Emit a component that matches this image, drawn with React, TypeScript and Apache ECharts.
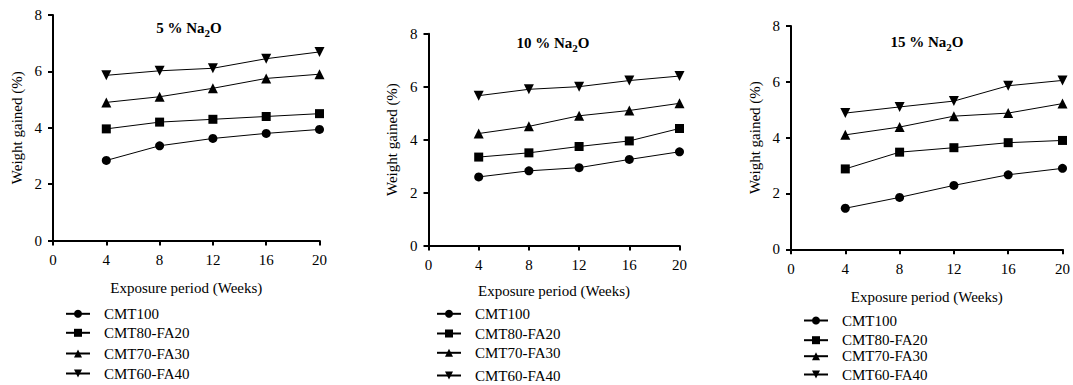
import React, { useEffect, useRef } from "react";
import * as echarts from "echarts";

const weeks = [4, 8, 12, 16, 20];
const seriesNames = ["CMT100", "CMT80-FA20", "CMT70-FA30", "CMT60-FA40"];
const panelTitles = ["5", "10", "15"];

const p5_CMT100 = [2.84, 3.36, 3.62, 3.8, 3.94];
const p5_CMT80 = [3.96, 4.2, 4.3, 4.4, 4.5];
const p5_CMT70 = [4.9, 5.1, 5.4, 5.75, 5.9];
const p5_CMT60 = [5.86, 6.02, 6.11, 6.45, 6.69];

const p10_CMT100 = [2.59, 2.82, 2.94, 3.25, 3.54];
const p10_CMT80 = [3.34, 3.5, 3.74, 3.95, 4.42];
const p10_CMT70 = [4.23, 4.5, 4.9, 5.1, 5.37];
const p10_CMT60 = [5.66, 5.9, 6.0, 6.23, 6.4];

const p15_CMT100 = [1.47, 1.86, 2.29, 2.67, 2.9];
const p15_CMT80 = [2.88, 3.48, 3.64, 3.82, 3.9];
const p15_CMT70 = [4.1, 4.38, 4.77, 4.88, 5.22];
const p15_CMT60 = [4.88, 5.1, 5.31, 5.86, 6.05];

const panelData = [
  [p5_CMT100, p5_CMT80, p5_CMT70, p5_CMT60],
  [p10_CMT100, p10_CMT80, p10_CMT70, p10_CMT60],
  [p15_CMT100, p15_CMT80, p15_CMT70, p15_CMT60],
];

const symbols = ["circle", "rect", "triangle", "path://M0,0L2,0L1,1.75Z"];
const FONT = "'Liberation Serif', 'Times New Roman', serif";

// layout (pixel positions)
const grids = [
  { left: 53, top: 15, width: 266.5, height: 225.5 },
  { left: 428.5, top: 33.7, width: 251, height: 211.8 },
  { left: 791, top: 26, width: 273, height: 223.3 },
];
const titlePos = [
  { x: 189, y: 28 },
  { x: 553, y: 43 },
  { x: 927, y: 42 },
];
const legendX = [65, 436, 803];
const legendY = [
  [314.3, 333.3, 354, 374],
  [314.3, 334, 353.3, 376],
  [321, 340.7, 356.7, 375],
];
const xNameGap = [40, 38, 40];

export default function App() {
  const ref = useRef<HTMLDivElement>(null);
  useEffect(() => {
    if (!ref.current) return;
    const chart = echarts.init(ref.current, undefined, { renderer: "svg" });
    const axisCommon = {
      axisLine: { show: true, lineStyle: { color: "#000", width: 2 } },
      axisTick: { show: true, inside: false, length: 5, lineStyle: { color: "#000", width: 2 } },
      splitLine: { show: false },
      nameTextStyle: { fontFamily: FONT, fontSize: 15, color: "#000" },
    };
    const xAxis = grids.map((_, i) => ({
      ...axisCommon,
      type: "value",
      gridIndex: i,
      min: 0,
      max: 20,
      interval: 4,
      name: "Exposure period (Weeks)",
      nameLocation: "middle",
      nameGap: xNameGap[i],
      axisLabel: { fontFamily: FONT, fontSize: 15, color: "#000", margin: 12 },
    }));
    const yAxis = grids.map((_, i) => ({
      ...axisCommon,
      type: "value",
      gridIndex: i,
      min: 0,
      max: 8,
      interval: 2,
      name: "Weight gained (%)",
      nameLocation: "middle",
      nameGap: 29,
      axisLabel: { fontFamily: FONT, fontSize: 15, color: "#000", margin: 11 },
    }));
    const series: any[] = [];
    panelData.forEach((set, pi) => {
      set.forEach((vals, si) => {
        series.push({
          type: "line",
          name: seriesNames[si],
          xAxisIndex: pi,
          yAxisIndex: pi,
          data: weeks.map((w, k) => [w, vals[k]]),
          symbol: symbols[si],
          symbolSize: si >= 2 ? 10 : 9,
          showAllSymbol: true,
          itemStyle: { color: "#000" },
          lineStyle: { color: "#000", width: 1 },
        });
      });
    });
    const legend: any[] = [];
    legendY.forEach((ys, pi) => {
      ys.forEach((y, si) => {
        legend.push({
          data: [seriesNames[si]],
          left: legendX[pi],
          top: y - 8,
          padding: 0,
          itemWidth: 24,
          itemHeight: 10,
          selectedMode: false,
          textStyle: { fontFamily: FONT, fontSize: 15, color: "#000", padding: [0, 0, 0, 9] },
        });
      });
    });
    const graphic = panelTitles.map((t, i) => ({
      type: "text",
      x: titlePos[i].x,
      y: titlePos[i].y,
      style: {
        text: `{a|${t} % Na}{s|2}{a|O}`,
        align: "center",
        verticalAlign: "middle",
        rich: {
          a: { fontFamily: FONT, fontSize: 15, fontWeight: "bold", fill: "#000", lineHeight: 17 },
          s: { fontFamily: FONT, fontSize: 11, fontWeight: "bold", fill: "#000", lineHeight: 11, padding: [9, 0, 0, 0] },
        },
      },
    }));
    chart.setOption({
      animation: false,
      backgroundColor: "#fff",
      textStyle: { fontFamily: FONT },
      grid: grids.map((g) => ({ ...g, containLabel: false })),
      xAxis,
      yAxis,
      series,
      legend,
      graphic,
    });
    return () => chart.dispose();
  }, []);
  return (
    <div
      ref={ref}
      style={{ position: "fixed", left: 0, top: 0, width: 1073, height: 385 }}
    />
  );
}
